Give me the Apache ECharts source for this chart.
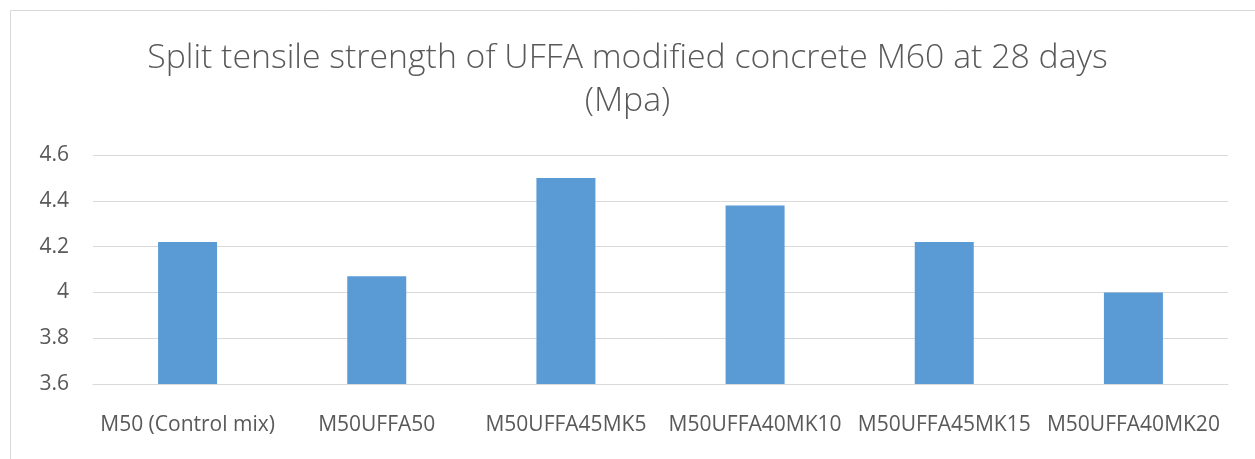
<!DOCTYPE html>
<html><head><meta charset="utf-8">
<script src="https://cdn.jsdelivr.net/npm/echarts@6/dist/echarts.min.js"></script>
<style>html,body{margin:0;padding:0;background:#fff}#c{width:1255px;height:459px}</style>
</head><body><div id="c"></div>
<script>
const categories = ["M50 (Control mix)", "M50UFFA50", "M50UFFA45MK5", "M50UFFA40MK10", "M50UFFA45MK15", "M50UFFA40MK20"];
const values = [4.22, 4.07, 4.50, 4.38, 4.22, 4.00];
const titleText = "Split tensile strength of UFFA modified concrete M60 at 28 days\n(Mpa)";
const chart = echarts.init(document.getElementById('c'));
chart.setOption({
  animation: false,
  graphic: [{type:'rect', shape:{x:10.5,y:10.5,width:1260,height:460}, style:{fill:'none', stroke:'#d9d9d9', lineWidth:1}}],
  title: {text: titleText, left: 'center', top: 32,
    textStyle:{fontFamily:'Open Sans', fontWeight:300, fontSize:33.8, color:'#595959', lineHeight:43}},
  grid: {left: 93, right: 27, top: 155, bottom: 75},
  xAxis: {type:'category', data: categories,
    axisLine:{lineStyle:{color:'#d9d9d9', width:1}}, axisTick:{show:false},
    axisLabel:{color:'#595959', fontFamily:'Open Sans', fontSize:21, margin:31, interval:0}},
  yAxis: {type:'value', min:3.6, max:4.6, interval:0.2,
    axisLine:{show:false}, axisTick:{show:false},
    splitLine:{lineStyle:{color:'#d9d9d9', width:1}},
    axisLabel:{color:'#595959', fontFamily:'Open Sans', fontSize:21, margin:24,
      formatter: v => String(Math.round(v*10)/10)}},
  series: [{type:'bar', data: values, barWidth:59,
    itemStyle:{color:'#5b9bd5'}}]
});
</script></body></html>
